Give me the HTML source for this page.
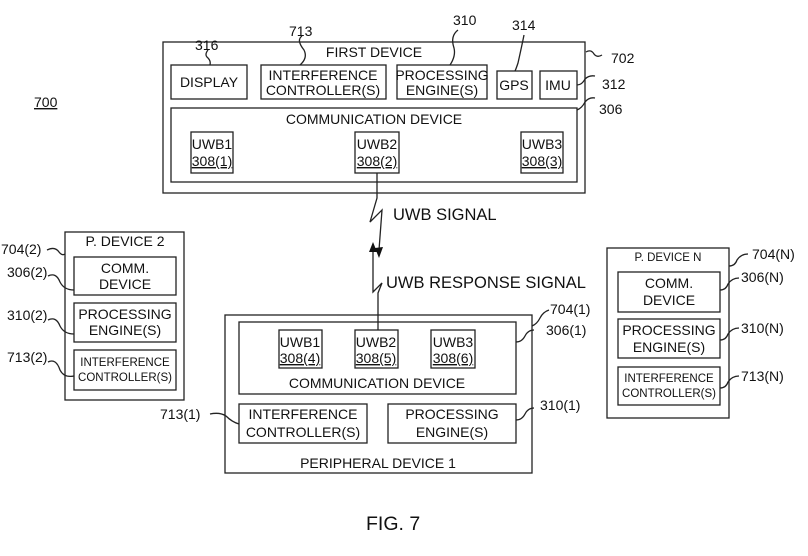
<!DOCTYPE html>
<html><head><style>
body{margin:0;background:#fff;width:808px;height:551px;overflow:hidden}
svg text{font-family:"Liberation Sans",Arial,sans-serif;fill:#111}
</style></head><body>
<svg width="808" height="551" viewBox="0 0 808 551" xmlns="http://www.w3.org/2000/svg">
<g fill="none" stroke="#222" stroke-width="1.3">
<rect x="163" y="42" width="422" height="151"/>
<rect x="171" y="65" width="76" height="34"/>
<rect x="261" y="65" width="125" height="34"/>
<rect x="397" y="65" width="90" height="34"/>
<rect x="497" y="71" width="35" height="28"/>
<rect x="540" y="71" width="37" height="28"/>
<rect x="171" y="108" width="406" height="74"/>
<rect x="191" y="132" width="42" height="41"/>
<rect x="355" y="132" width="44" height="41"/>
<rect x="521" y="132" width="42" height="41"/>
<rect x="65" y="232" width="119" height="168"/>
<rect x="74" y="257" width="102" height="38"/>
<rect x="74" y="303" width="102" height="39"/>
<rect x="74" y="350" width="102" height="40"/>
<rect x="607" y="248" width="122" height="170"/>
<rect x="618" y="272" width="102" height="40"/>
<rect x="618" y="319" width="102" height="39"/>
<rect x="618" y="367" width="102" height="38"/>
<rect x="225" y="315" width="307" height="158"/>
<rect x="239" y="322" width="277" height="72"/>
<rect x="279" y="330" width="43" height="38"/>
<rect x="355" y="330" width="43" height="38"/>
<rect x="431" y="330" width="44" height="38"/>
<rect x="239" y="404" width="128" height="39"/>
<rect x="388" y="404" width="128" height="39"/>
<polyline points="377,173 377,198 370,222 382,210 379,250"/>
<polyline points="378,330 378,293 382,283 373,292 373,250"/>
<path d="M208,50 q-4,5 0,8 q3,3 2,7"/>
<path d="M302,36 q-6,4 2,14 q4,8 -4,15"/>
<path d="M458,30 q-8,6 -4,18 q2,8 -4,17"/>
<path d="M524,35 q-2,10 -6,28 q-2,6 -3,8"/>
<path d="M586,52 q5,-3 8,2 q3,4 8,1"/>
<path d="M577,85 q5,0 8,-6 q4,-4 10,-3"/>
<path d="M577,110 q5,-2 8,-8 q4,-5 10,-4"/>
<path d="M47,250 q8,-4 12,2 q3,4 6,2"/>
<path d="M48,276 q8,-4 12,6 q4,8 14,8"/>
<path d="M48,320 q8,-4 12,6 q4,8 14,8"/>
<path d="M48,362 q8,-4 12,8 q4,8 14,6"/>
<path d="M729,266 q6,0 8,-6 q4,-6 11,-6"/>
<path d="M720,290 q6,0 8,-6 q4,-6 11,-6"/>
<path d="M720,340 q6,0 8,-6 q4,-6 11,-6"/>
<path d="M720,388 q6,0 8,-6 q4,-6 11,-6"/>
<path d="M532,326 q5,-2 8,-8 q3,-6 9,-8"/>
<path d="M516,342 q6,0 9,-6 q3,-6 9,-6"/>
<path d="M516,420 q6,0 9,-6 q3,-6 9,-6"/>
<path d="M210,414 q10,-2 16,2 q6,6 13,8"/>
</g>
<polygon points="379,258 375,248 383,247" fill="#111"/>
<polygon points="373,242 369,252 377,252" fill="#111"/>
<g font-size="14" text-anchor="middle">
<text x="374" y="57">FIRST DEVICE</text>
<text x="209" y="87">DISPLAY</text>
<text x="323" y="80">INTERFERENCE</text><text x="323" y="95">CONTROLLER(S)</text>
<text x="442" y="80">PROCESSING</text><text x="442" y="95">ENGINE(S)</text>
<text x="514" y="90">GPS</text>
<text x="558" y="90">IMU</text>
<text x="374" y="124">COMMUNICATION DEVICE</text>
<text x="212" y="149">UWB1</text><text x="212" y="166" text-decoration="underline">308(1)</text>
<text x="377" y="149">UWB2</text><text x="377" y="166" text-decoration="underline">308(2)</text>
<text x="542" y="149">UWB3</text><text x="542" y="166" text-decoration="underline">308(3)</text>
<text x="125" y="246">P. DEVICE 2</text>
<text x="125" y="273">COMM.</text><text x="125" y="289">DEVICE</text>
<text x="125" y="319">PROCESSING</text><text x="125" y="335">ENGINE(S)</text>
<text x="300" y="347">UWB1</text><text x="300" y="363" text-decoration="underline">308(4)</text>
<text x="376" y="347">UWB2</text><text x="376" y="363" text-decoration="underline">308(5)</text>
<text x="453" y="347">UWB3</text><text x="453" y="363" text-decoration="underline">308(6)</text>
<text x="377" y="388">COMMUNICATION DEVICE</text>
<text x="303" y="419">INTERFERENCE</text><text x="303" y="437">CONTROLLER(S)</text>
<text x="452" y="419">PROCESSING</text><text x="452" y="437">ENGINE(S)</text>
<text x="378" y="468">PERIPHERAL DEVICE 1</text>
<text x="669" y="288">COMM.</text><text x="669" y="305">DEVICE</text>
<text x="669" y="335">PROCESSING</text><text x="669" y="352">ENGINE(S)</text>
</g>
<g font-size="11.5" text-anchor="middle">
<text x="125" y="366">INTERFERENCE</text><text x="125" y="381">CONTROLLER(S)</text>
<text x="668" y="261">P. DEVICE N</text>
<text x="669" y="382">INTERFERENCE</text><text x="669" y="397">CONTROLLER(S)</text>
</g>
<g font-size="14">
<text x="195" y="50">316</text>
<text x="289" y="36">713</text>
<text x="453" y="25">310</text>
<text x="512" y="30">314</text>
<text x="611" y="63">702</text>
<text x="602" y="89">312</text>
<text x="599" y="114">306</text>
<text x="34" y="107" text-decoration="underline">700</text>
<text x="1" y="254">704(2)</text>
<text x="7" y="277">306(2)</text>
<text x="7" y="320">310(2)</text>
<text x="7" y="362">713(2)</text>
<text x="752" y="259">704(N)</text>
<text x="741" y="282">306(N)</text>
<text x="741" y="333">310(N)</text>
<text x="741" y="381">713(N)</text>
<text x="550" y="314">704(1)</text>
<text x="546" y="335">306(1)</text>
<text x="540" y="410">310(1)</text>
<text x="160" y="419">713(1)</text>
</g>
<g font-size="16.5">
<text x="393" y="220">UWB SIGNAL</text>
<text x="386" y="288">UWB RESPONSE SIGNAL</text>
<text x="366" y="530" font-size="19.5">FIG. 7</text>
</g>
</svg>
</body></html>
